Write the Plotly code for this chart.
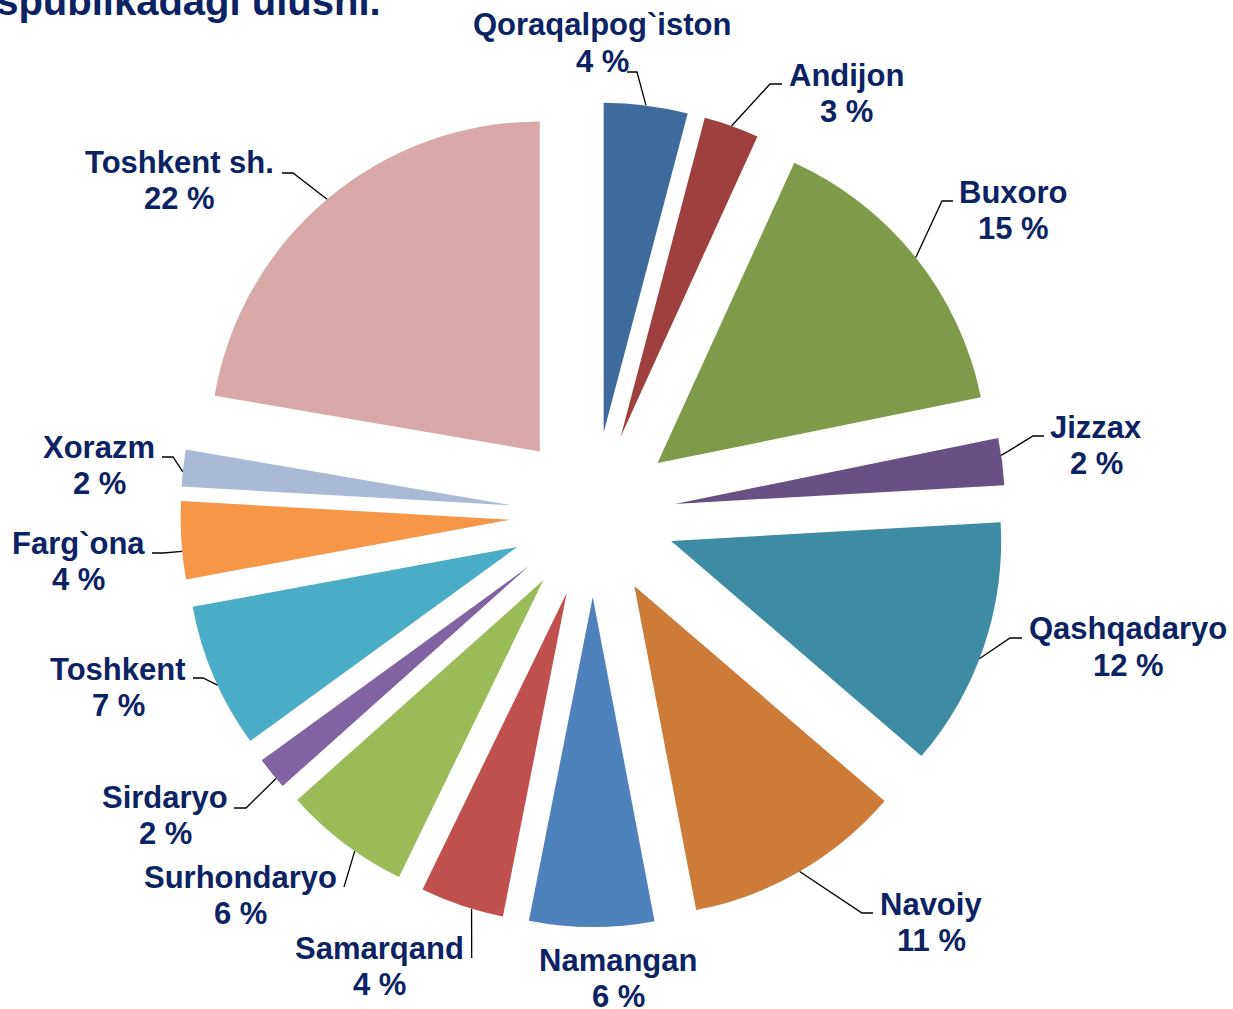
import math
import plotly.graph_objects as go

# ---------------- data ----------------
regions = ["Qoraqalpog`iston", "Andijon", "Buxoro", "Jizzax", "Qashqadaryo",
           "Navoiy", "Namangan", "Samarqand", "Surhondaryo", "Sirdaryo",
           "Toshkent", "Farg`ona", "Xorazm", "Toshkent sh."]
shares = [4.1, 2.7, 15.0, 2.3, 12.2, 10.7, 6.1, 4.1, 6.2, 1.6, 7.1, 3.8, 1.8, 22.3]
colors = ["#3F6A9C", "#9E403E", "#7F9B4A", "#675084", "#3D8CA3", "#CC7B38",
          "#4F81BD", "#C0504D", "#9BBB59", "#8064A2", "#4BACC6", "#F79646",
          "#AAB9D6", "#D9A9A9"]
title_text = "Respublikadagi ulushi."

# ---------------- layout parameters (pixels) ----------------
W, H = 1233, 1009
CX, CY = 593.0, 514.5       # pie centre
R = 330.0                    # pie radius
PULL = 0.25                  # explosion (fraction of radius)
TXT = "#0B2363"
FONT = "Liberation Sans, Arial, sans-serif"
FS = 31
LINE_GAP = 36.5

# label block: centre x, centre y of name line
label_pos = [(602, 25), (846, 75), (1013, 192), (1096, 427), (1128, 628.5),
             (931, 904), (618, 960), (380, 948), (240, 877), (165, 797),
             (118.5, 669), (78.5, 543), (99, 447), (179, 162)]
# leader: where on the arc (fraction of slice angle), elbow, end (None = no leader)
leader_frac = [0.5, 0.5, 0.5, 0.37, 0.55, 0.5, 0.5, 0.38, 0.4, 0.3, 0.44, 0.36, 0.4, 0.5]
leader_elbow = [(637, 72), (770, 84), (942, 201), (1033, 436), (1010, 638),
                (862, 913), None, (471.7, 958), (344, 887), (246, 808),
                (203, 678), (163, 553), (173, 457), (293, 173)]
leader_end = [(627, 72), (782, 84), (953, 201), (1044, 436), (1022, 638),
              (873, 913), None, (471.7, 958), (344, 887), (234, 808),
              (193, 678), (152, 553), (162, 457), (282, 173)]


def px(x):
    return x / W


def py(y):
    return 1 - y / H


S = 2 * R * (1 + PULL)
x0 = (CX - S / 2) / W
y0 = 1 - (CY + S / 2) / H

fig = go.Figure(go.Pie(
    labels=regions, values=shares, sort=False, direction="clockwise",
    rotation=0, pull=PULL, textinfo="none", hoverinfo="label+percent",
    marker=dict(colors=colors, line=dict(width=0)),
    domain=dict(x=[x0, x0 + S / W], y=[y0, y0 + S / H]),
    showlegend=False,
))

total = sum(shares)
annotations = []
shapes = []
cum = 0.0
for i, (name, v) in enumerate(zip(regions, shares)):
    a0 = cum / total * 360
    a1 = (cum + v) / total * 360
    cum += v
    mid = math.radians((a0 + a1) / 2)
    scx = CX + PULL * R * math.sin(mid)
    scy = CY - PULL * R * math.cos(mid)
    ang = math.radians(a0 + leader_frac[i] * (a1 - a0))
    sx = scx + R * math.sin(ang)
    sy = scy - R * math.cos(ang)

    lx, ly = label_pos[i]
    pct = f"{round(v / total * 100)} %"
    for txt, yy in ((name, ly), (pct, ly + LINE_GAP)):
        annotations.append(dict(
            x=px(lx), y=py(yy), xref="paper", yref="paper", text=txt,
            showarrow=False, xanchor="center", yanchor="middle",
            font=dict(family=FONT, size=FS, color=TXT, weight="bold")))

    if leader_end[i] is not None:
        ex, ey = leader_elbow[i]
        fx, fy = leader_end[i]
        path = f"M {px(sx)} {py(sy)} L {px(ex)} {py(ey)} L {px(fx)} {py(fy)}"
        shapes.append(dict(type="path", xref="paper", yref="paper", path=path,
                           line=dict(color="black", width=1.3)))

annotations.append(dict(
    x=px(383), y=py(1), xref="paper", yref="paper", text=title_text,
    showarrow=False, xanchor="right", yanchor="middle",
    font=dict(family=FONT, size=40, color=TXT, weight="bold")))

fig.update_layout(
    width=W, height=H, margin=dict(l=0, r=0, t=0, b=0),
    paper_bgcolor="white", plot_bgcolor="white",
    annotations=annotations, shapes=shapes,
)

fig.write_html("out.html", config={"displayModeBar": False},
               post_script="document.body.style.margin='0';")
